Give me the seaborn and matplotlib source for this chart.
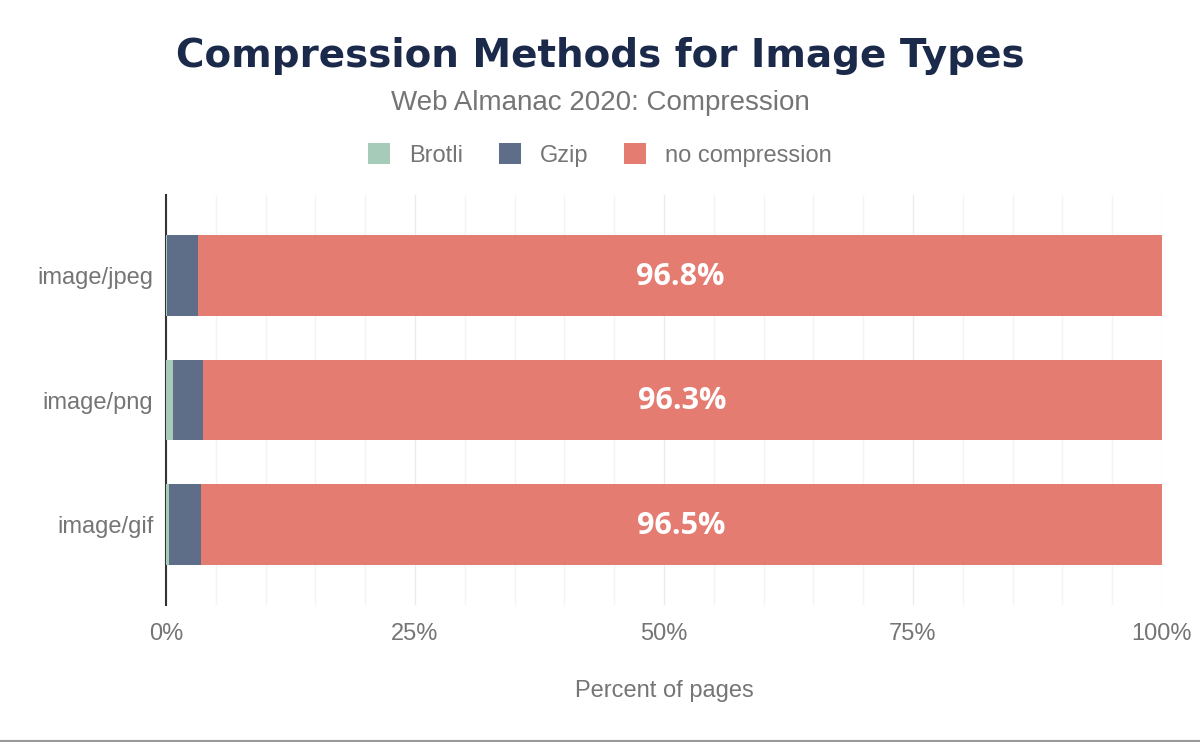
import matplotlib.pyplot as plt
import seaborn as sns
import pandas as pd
import numpy as np

types = ["image/jpeg", "image/png", "image/gif"]
brotli = [0.1, 0.7, 0.3]
gzip = [3.1, 3.0, 3.2]
no_comp = [96.8, 96.3, 96.5]

colors = {"Brotli": "#a7cbb9", "Gzip": "#5e6e89", "no compression": "#e57c72"}
grey = "#757575"


def main():
    sns.set_theme(style="white")
    plt.rcParams["font.family"] = ["Liberation Sans", "DejaVu Sans"]

    df = pd.DataFrame({"type": types, "Brotli": brotli, "Gzip": gzip, "none": no_comp})
    df["c1"] = df["Brotli"]
    df["c2"] = df["Brotli"] + df["Gzip"]
    df["c3"] = df["c2"] + df["none"]

    fig = plt.figure(figsize=(12, 7.42), dpi=100)
    ax = fig.add_axes([0.1383, 0.1846, 0.83, 0.5526])

    # stacked by overdrawing cumulative sums
    bar_kw = dict(y="type", width=0.65, saturation=1, ax=ax, linewidth=0, edgecolor="none")
    sns.barplot(data=df, x="c3", color=colors["no compression"], label="no compression",
                zorder=3, **bar_kw)
    sns.barplot(data=df, x="c2", color=colors["Gzip"], label="Gzip", zorder=4, **bar_kw)
    sns.barplot(data=df, x="c1", color=colors["Brotli"], label="Brotli", zorder=5, **bar_kw)

    for i, row in df.iterrows():
        ax.text((row["c2"] + row["c3"]) / 2, i + 0.01, f"{row['none']:.1f}%", ha="center",
                va="center", color="white", fontsize=22, fontweight="bold",
                family="Open Sans", zorder=6)

    ax.set_xlim(0, 100)
    ax.set_ylim(2.65, -0.65)
    ax.set_xticks(np.arange(0, 101, 25))
    ax.set_xticklabels([f"{v}%" for v in range(0, 101, 25)])
    ax.set_xticks(np.arange(0, 101, 5), minor=True)
    ax.grid(axis="x", which="minor", color="#f4f4f4", lw=1, zorder=0)
    ax.grid(axis="x", which="major", color="#ebebeb", lw=1, zorder=0)
    ax.set_axisbelow(True)
    for s in ["top", "right", "bottom"]:
        ax.spines[s].set_visible(False)
    ax.spines["left"].set_color("#333333")
    ax.spines["left"].set_linewidth(1.5)
    ax.tick_params(axis="both", which="both", length=0, labelsize=17, colors=grey)
    ax.tick_params(axis="y", pad=9)
    ax.tick_params(axis="x", pad=13)
    ax.set_ylabel("")
    ax.set_xlabel("Percent of pages", fontsize=17, color=grey, labelpad=25)

    handles, labels = ax.get_legend_handles_labels()
    ax.get_legend().remove()
    order = [labels.index(k) for k in ["Brotli", "Gzip", "no compression"]]
    leg = fig.legend([handles[k] for k in order], [labels[k] for k in order],
                     loc="center", bbox_to_anchor=(0.5, 0.791), ncol=3, frameon=False,
                     fontsize=17, handlelength=0.95, handleheight=0.95, columnspacing=1.5,
                     handletextpad=0.8)
    for t in leg.get_texts():
        t.set_color(grey)

    fig.text(0.5, 0.925, "Compression Methods for Image Types", ha="center", va="center",
             fontsize=28, fontweight="bold", family="DejaVu Sans", color="#1b2a4a")
    fig.text(0.5, 0.861, "Web Almanac 2020: Compression", ha="center", va="center",
             fontsize=20, color=grey)

    fig.add_artist(plt.Line2D([0, 1], [0.0015, 0.0015], color="#999999", lw=1.5,
                              transform=fig.transFigure))

    fig.savefig("out.png", dpi=100)


if __name__ == "__main__":
    main()
